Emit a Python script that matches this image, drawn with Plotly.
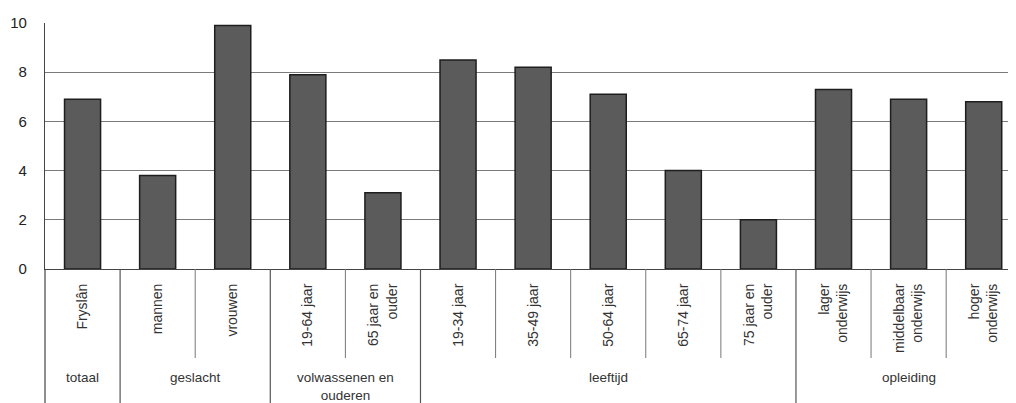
import plotly.graph_objects as go

categories = ["Fryslân", "mannen", "vrouwen", "19-64 jaar", "65 jaar en<br>ouder",
              "19-34 jaar", "35-49 jaar", "50-64 jaar", "65-74 jaar", "75 jaar en<br>ouder",
              "lager<br>onderwijs", "middelbaar<br>onderwijs", "hoger<br>onderwijs"]
values = [6.9, 3.8, 9.9, 7.9, 3.1, 8.5, 8.2, 7.1, 4.0, 2.0, 7.3, 6.9, 6.8]
groups = ["totaal", "geslacht", "volwassenen en<br>ouderen", "leeftijd", "opleiding"]
group_sizes = [1, 2, 2, 5, 3]
y_ticks = [0, 2, 4, 6, 8, 10]

# page body has an 8px margin, so the figure starts at (8, 8)
W, H = 1008, 395
ml, mr, mt, mb = 37, 0, 15, 134
plot_h = H - mt - mb

x = list(range(len(categories)))
fig = go.Figure(go.Bar(
    x=x, y=values, width=0.48,
    marker=dict(color="#5b5b5b", line=dict(color="#1e1e1e", width=1.5)),
    hoverinfo="skip",
))

def py(pix_below_axis):
    return -pix_below_axis / plot_h

shapes = []
annotations = []
# left axis extension through label area
shapes.append(dict(type="line", xref="paper", yref="paper", x0=0, x1=0,
                   y0=0, y1=py(mb), line=dict(color="#444", width=1.2)))
start = 0
group_bounds = set()
for g, n in zip(groups, group_sizes):
    end = start + n
    group_bounds.add(end - 0.5)
    annotations.append(dict(xref="x", yref="paper", x=(start + end - 1) / 2, y=py(99),
                            text=g, showarrow=False, yanchor="top",
                            font=dict(family="Liberation Sans, Arial", size=13.5, color="#333")))
    start = end
for i in range(len(categories) - 1):
    b = i + 0.5
    if b in group_bounds:
        shapes.append(dict(type="line", xref="x", yref="paper", x0=b, x1=b,
                           y0=0, y1=py(mb), line=dict(color="#555", width=1.2)))
    else:
        shapes.append(dict(type="line", xref="x", yref="paper", x0=b, x1=b,
                           y0=0, y1=py(89), line=dict(color="#777", width=1)))

fig.update_layout(
    width=W, height=H,
    margin=dict(l=ml, r=mr, t=mt, b=mb),
    plot_bgcolor="white", paper_bgcolor="white",
    showlegend=False,
    shapes=shapes, annotations=annotations,
    font=dict(family="Liberation Sans, Arial", color="#333"),
    xaxis=dict(
        range=[-0.5, 12.43], tickmode="array", tickvals=x, ticktext=categories,
        tickangle=-90, ticks="", showgrid=False, zeroline=False,
        showline=True, linecolor="#444", linewidth=1.2,
        tickfont=dict(family="Liberation Sans, Arial", size=14, color="#333"),
        ticklabelstandoff=8,
    ),
    yaxis=dict(
        range=[0, 10], tickmode="array", tickvals=y_ticks,
        showgrid=True, gridcolor="#7a7a7a", gridwidth=1,
        zeroline=False, showline=True, linecolor="#444", linewidth=1.2,
        ticks="", ticklabelstandoff=14,
        tickfont=dict(family="Liberation Sans, Arial", size=15, color="#222"),
    ),
)

fig.write_html("out.html")
